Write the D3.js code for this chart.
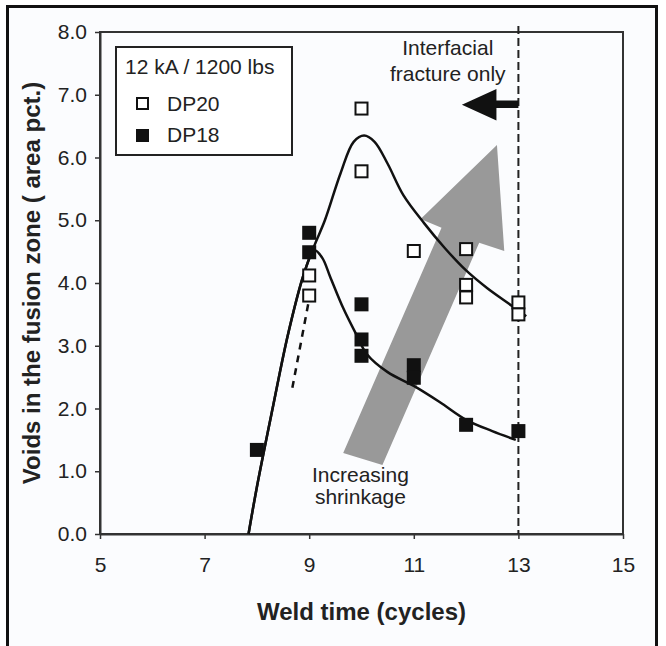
<!DOCTYPE html>
<html>
<head>
<meta charset="utf-8">
<script src="https://cdn.jsdelivr.net/npm/d3@7"></script>
<style>
  body { margin: 0; background: #fff; }
  text { font-family: "Liberation Sans", Arial, sans-serif; fill: #222; }
</style>
</head>
<body>
<script>
// measured points (weld time in cycles, voids in area pct.)
var dp20X = [9, 9, 10, 10, 11, 12, 12, 12, 13, 13];
var dp20Y = [4.12, 3.80, 6.78, 5.78, 4.51, 4.54, 3.97, 3.77, 3.69, 3.50];
var dp18X = [8, 9, 9, 10, 10, 10, 11, 11, 12, 13];
var dp18Y = [1.34, 4.80, 4.49, 3.66, 3.10, 2.84, 2.69, 2.49, 1.74, 1.64];

// hand drawn trend curves
var fit20X = [7.84, 8.0, 8.3, 8.6, 8.9, 9.1, 9.3, 9.6, 9.85, 10.05, 10.25, 10.5, 10.8, 11.2, 11.6, 12.0, 12.4, 12.8, 13.15];
var fit20Y = [0, 0.75, 2.0, 3.2, 4.15, 4.6, 5.0, 5.75, 6.25, 6.35, 6.25, 5.9, 5.4, 4.95, 4.55, 4.2, 3.92, 3.68, 3.47];
var fit18X = [7.84, 8.0, 8.3, 8.6, 8.9, 9.1, 9.25, 9.4, 9.65, 9.9, 10.1, 10.5, 11.0, 11.5, 12.0, 12.5, 12.95];
var fit18Y = [0, 0.75, 2.0, 3.2, 4.15, 4.52, 4.4, 4.1, 3.6, 3.18, 2.87, 2.58, 2.36, 2.1, 1.82, 1.64, 1.5];
var dashX = [8.98, 8.66];
var dashY = [3.66, 2.25];

// annotation shapes
var shrinkX = [9.65, 11.53, 11.13, 12.59, 12.73, 12.25, 10.40];
var shrinkY = [1.29, 4.88, 5.02, 6.20, 4.51, 4.64, 1.10];
var leftArrowX = [13.0, 12.58, 12.58, 11.92, 12.58, 12.58, 13.0];
var leftArrowY = [6.91, 6.91, 7.09, 6.84, 6.59, 6.79, 6.79];

var xTicks = [5, 7, 9, 11, 13, 15];
var yTicks = [0, 1, 2, 3, 4, 5, 6, 7, 8];

var W = 666, H = 646;
var svg = d3.select("body").append("svg").attr("width", W).attr("height", H);

// scanned figure frame
svg.append("rect").attr("x", 7.5).attr("y", 6.5).attr("width", 649).attr("height", 660)
  .attr("fill", "#fbfcfe").attr("stroke", "#111").attr("stroke-width", 3);

var x = d3.scaleLinear().domain([5, 15]).range([100, 623]);
var y = d3.scaleLinear().domain([0, 8]).range([534, 32]);

var pts = function(xs, ys) { return xs.map((v, i) => [v, ys[i]]); };

// plot box
svg.append("rect").attr("x", x(5)).attr("y", y(8))
  .attr("width", x(15) - x(5)).attr("height", y(0) - y(8))
  .attr("fill", "none").attr("stroke", "#333").attr("stroke-width", 2);

// gray arrow (behind everything)
svg.append("path")
  .attr("d", d3.line().x(d => x(d[0])).y(d => y(d[1]))(pts(shrinkX, shrinkY)) + "Z")
  .attr("fill", "#999");

// axes
var gx = svg.append("g").attr("transform", "translate(0," + y(0) + ")")
  .call(d3.axisBottom(x).tickValues(xTicks).tickSize(5).tickSizeOuter(0).tickPadding(18));
var gy = svg.append("g").attr("transform", "translate(" + x(5) + ",0)")
  .call(d3.axisLeft(y).tickValues(yTicks).tickFormat(d3.format(".1f")).tickSize(5).tickSizeOuter(0).tickPadding(8));
[gx, gy].forEach(function(g) {
  g.select(".domain").attr("stroke", "#333").attr("stroke-width", 2);
  g.selectAll(".tick line").attr("stroke", "#333").attr("stroke-width", 1.5);
  g.selectAll(".tick text").attr("font-size", 21).attr("fill", "#222");
});

svg.append("text").attr("x", (x(5) + x(15)) / 2).attr("y", 620)
  .attr("text-anchor", "middle").attr("font-size", 24).attr("font-weight", "bold")
  .text("Weld time (cycles)");
svg.append("text").attr("transform", "translate(40," + ((y(0) + y(8)) / 2) + ") rotate(-90)")
  .attr("text-anchor", "middle").attr("font-size", 24).attr("font-weight", "bold")
  .text("Voids in the fusion zone ( area pct.)");

// x = 13 boundary
svg.append("line").attr("x1", x(13)).attr("x2", x(13)).attr("y1", 26).attr("y2", y(0))
  .attr("stroke", "#222").attr("stroke-width", 2).attr("stroke-dasharray", "8,4");

// curves
var line = d3.line().x(d => x(d[0])).y(d => y(d[1])).curve(d3.curveCatmullRom);
svg.append("path").attr("d", line(pts(fit20X, fit20Y)))
  .attr("fill", "none").attr("stroke", "#111").attr("stroke-width", 2.5);
svg.append("path").attr("d", line(pts(fit18X, fit18Y)))
  .attr("fill", "none").attr("stroke", "#111").attr("stroke-width", 2.5);
svg.append("path").attr("d", line(pts(dashX, dashY)))
  .attr("fill", "none").attr("stroke", "#111").attr("stroke-width", 2.5).attr("stroke-dasharray", "7,6");

// markers
var s = 12;
svg.selectAll("rect.dp20").data(pts(dp20X, dp20Y)).enter().append("rect")
  .attr("class", "dp20")
  .attr("x", d => x(d[0]) - s / 2).attr("y", d => y(d[1]) - s / 2)
  .attr("width", s).attr("height", s)
  .attr("fill", "#fff").attr("stroke", "#111").attr("stroke-width", 2);
svg.selectAll("rect.dp18").data(pts(dp18X, dp18Y)).enter().append("rect")
  .attr("class", "dp18")
  .attr("x", d => x(d[0]) - (s + 2) / 2).attr("y", d => y(d[1]) - (s + 2) / 2)
  .attr("width", s + 2).attr("height", s + 2)
  .attr("fill", "#111");

// black arrow
svg.append("path")
  .attr("d", d3.line().x(d => x(d[0])).y(d => y(d[1]))(pts(leftArrowX, leftArrowY)) + "Z")
  .attr("fill", "#111");

// annotations
svg.append("text").attr("x", x(11.65)).attr("y", 55).attr("text-anchor", "middle")
  .attr("font-size", 21).text("Interfacial");
svg.append("text").attr("x", x(11.65)).attr("y", 81).attr("text-anchor", "middle")
  .attr("font-size", 21).text("fracture only");
svg.append("text").attr("x", x(9.98)).attr("y", 482).attr("text-anchor", "middle")
  .attr("font-size", 21).text("Increasing");
svg.append("text").attr("x", x(9.98)).attr("y", 504).attr("text-anchor", "middle")
  .attr("font-size", 21).text("shrinkage");

// legend
var lg = svg.append("g").attr("transform", "translate(116,47)");
lg.append("rect").attr("width", 176).attr("height", 108)
  .attr("fill", "#fff").attr("stroke", "#222").attr("stroke-width", 2);
lg.append("text").attr("x", 9).attr("y", 27).attr("font-size", 21).text("12 kA / 1200 lbs");
lg.append("rect").attr("x", 21).attr("y", 51).attr("width", 11).attr("height", 11)
  .attr("fill", "#fff").attr("stroke", "#111").attr("stroke-width", 2);
lg.append("text").attr("x", 51).attr("y", 64).attr("font-size", 21).text("DP20");
lg.append("rect").attr("x", 20).attr("y", 82).attr("width", 13).attr("height", 13)
  .attr("fill", "#111");
lg.append("text").attr("x", 51).attr("y", 95).attr("font-size", 21).text("DP18");
</script>
</body>
</html>
